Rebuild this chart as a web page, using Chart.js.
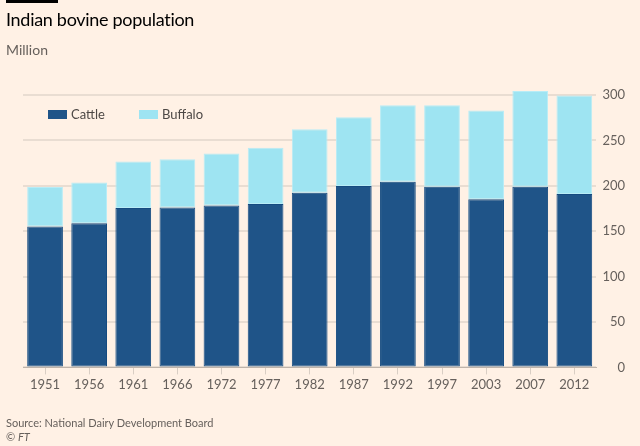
<!DOCTYPE html>
<html>
<head>
<meta charset="utf-8">
<script src="https://cdn.jsdelivr.net/npm/chart.js@4/dist/chart.umd.min.js"></script>
<style>
    body { margin: 0; background: #fff1e5; font-family: Lato, sans-serif; }
    #wrap { position: relative; width: 640px; height: 446px; overflow: hidden; }
    #chart { position: absolute; left: 0; top: 0; }
    .bar-top { position: absolute; left: 6px; top: 0; width: 52px; height: 3px; background: #000; }
    .title { position: absolute; left: 6px; top: 8px; font-size: 18px; letter-spacing: -0.3px; color: #000; }
    .unit { position: absolute; left: 6px; top: 41px; font-size: 14px; color: #66605c; }
    .legend { position: absolute; top: 106px; font-size: 13px; color: #4d4845; }
    .legend span.box { display: inline-block; width: 19px; height: 9px; margin-right: 4px; vertical-align: 0px; }
    .source { position: absolute; left: 6px; top: 416px; font-size: 11px; color: #66605c; }
    .ft { position: absolute; left: 6px; top: 430px; font-size: 11px; color: #66605c; }
</style>
</head>
<body>
<div id="wrap">
    <canvas id="chart" width="640" height="446"></canvas>
    <div class="bar-top"></div>
    <div class="title">Indian bovine population</div>
    <div class="unit">Million</div>
    <div class="legend" style="left:48px"><span class="box" style="background:#1f5488"></span>Cattle</div>
    <div class="legend" style="left:139px"><span class="box" style="background:#9ee4f2"></span>Buffalo</div>
    <div class="source">Source: National Dairy Development Board</div>
    <div class="ft">© <i>FT</i></div>
</div>
<script>
// 資料
const years = ['1951', '1956', '1961', '1966', '1972', '1977', '1982', '1987', '1992', '1997', '2003', '2007', '2012'];
const cattle = [155.3, 158.7, 175.6, 176.2, 178.3, 180.0, 192.5, 199.7, 204.6, 198.9, 185.2, 199.1, 190.9];
const buffalo = [43.4, 44.9, 51.2, 53.0, 57.4, 62.0, 69.8, 76.0, 84.2, 89.9, 97.9, 105.3, 108.7];
const yTicks = [0, 50, 100, 150, 200, 250, 300];

const labelColor = '#66605c';
const gridColor = '#e9ddd2';

new Chart(document.getElementById('chart'), {
    type: 'bar',
    data: {
        labels: years,
        datasets: [{
            label: 'Cattle',
            data: cattle,
            backgroundColor: '#1f5488',
            borderColor: '#154b80',
            borderWidth: 1,
            borderSkipped: false,
            barPercentage: 0.81,
            categoryPercentage: 1
        }, {
            label: 'Buffalo',
            data: buffalo,
            backgroundColor: '#9ee4f2',
            borderColor: '#b8ecf6',
            borderWidth: 1,
            borderSkipped: false,
            barPercentage: 0.81,
            categoryPercentage: 1
        }]
    },
    options: {
        responsive: false,
        animation: false,
        layout: {
            padding: { left: 23, right: 15, top: 86, bottom: 50 }
        },
        plugins: {
            legend: { display: false },
            tooltip: { enabled: false }
        },
        scales: {
            x: {
                stacked: true,
                grid: {
                    offset: false,
                    drawOnChartArea: false,
                    drawTicks: true,
                    tickLength: 7,
                    color: '#d9cec4'
                },
                border: { color: '#bfb4aa', width: 1 },
                ticks: {
                    color: labelColor,
                    font: { family: 'Lato', size: 13 },
                    padding: 3,
                    maxRotation: 0
                }
            },
            y: {
                stacked: true,
                position: 'right',
                min: 0,
                max: 310,
                afterBuildTicks: axis => {
                    axis.ticks = yTicks.map(v => ({ value: v }));
                },
                grid: {
                    drawTicks: false,
                    color: gridColor,
                    lineWidth: 2
                },
                border: { display: false },
                ticks: {
                    color: labelColor,
                    font: { family: 'Lato', size: 13 },
                    padding: 3,
                    crossAlign: 'far'
                }
            }
        }
    }
});
</script>
</body>
</html>
